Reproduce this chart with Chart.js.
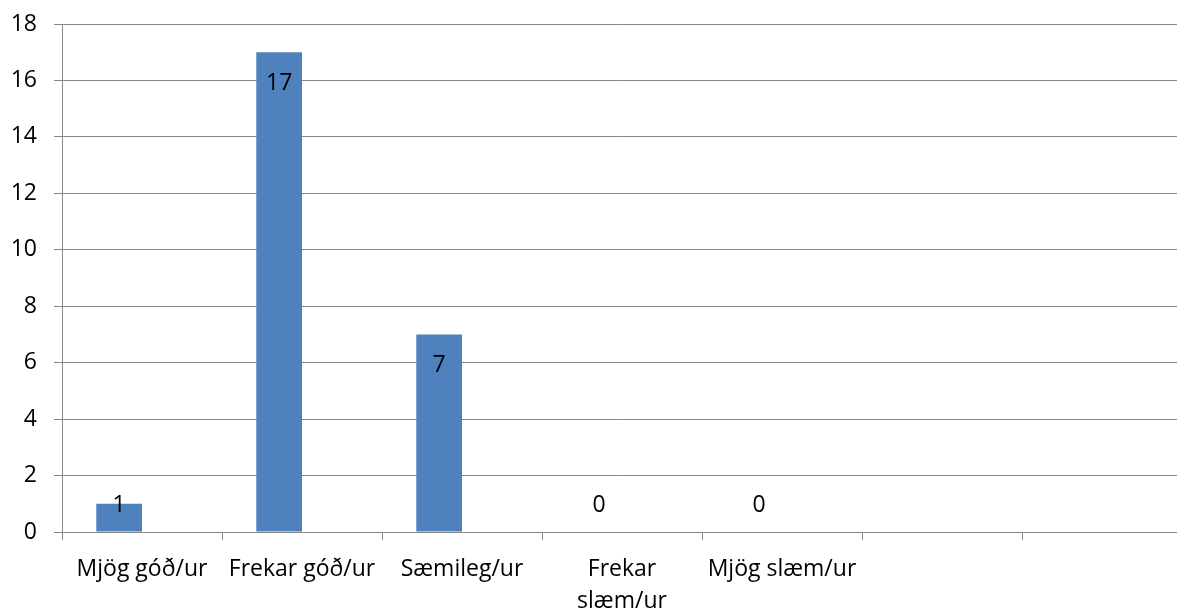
<!DOCTYPE html>
<html><head><meta charset="utf-8">
<script src="https://cdn.jsdelivr.net/npm/chart.js@4/dist/chart.umd.min.js"></script>
<style>
html,body{margin:0;padding:0;background:#fff;overflow:hidden;}
#wrap{width:1182px;height:610px;position:relative;}
</style></head><body>
<div id="wrap"><canvas id="c"></canvas></div>
<script>
const categories = [["Mjög góð/ur"], ["Frekar góð/ur"], ["Sæmileg/ur"], ["Frekar", "slæm/ur"], ["Mjög slæm/ur"], [""], [""]];
const seriesValues = [1, 17, 7, 0, 0, null, null];
const emptySeries = [null, null, null, null, null, null, null];
const yTicks = [0, 2, 4, 6, 8, 10, 12, 14, 16, 18];

const FONT = "'Open Sans', Lato, sans-serif";
const FSIZE = 23;
const labelPlugin = {
  id: 'barLabels',
  afterDatasetsDraw(chart) {
    const ctx = chart.ctx;
    const meta = chart.getDatasetMeta(0);
    const base = chart.scales.y.getPixelForValue(0);
    ctx.save();
    ctx.font = FSIZE + "px " + FONT;
    ctx.fillStyle = '#000';
    ctx.textAlign = 'center';
    ctx.textBaseline = 'middle';
    meta.data.forEach((bar, i) => {
      const v = seriesValues[i];
      if (v === null || v === undefined) return;
      const y = Math.min(bar.y + 31, base - 27);
      ctx.fillText(String(v), bar.x, y);
    });
    ctx.restore();
  }
};

new Chart(document.getElementById('c'), {
  type: 'bar',
  data: {
    labels: categories,
    datasets: [
      { data: seriesValues, backgroundColor: '#4F81BD', borderWidth: 0, categoryPercentage: 2/3.5, barPercentage: 1 },
      { data: emptySeries, backgroundColor: '#C0504D', borderWidth: 0, categoryPercentage: 2/3.5, barPercentage: 1 }
    ]
  },
  options: {
    responsive: true,
    maintainAspectRatio: false,
    animation: false,
    layout: { padding: { top: 24, right: 0, left: 0, bottom: 0 } },
    plugins: { legend: { display: false }, tooltip: { enabled: false } },
    scales: {
      x: {
        grid: { offset: true, drawOnChartArea: false, drawTicks: true, tickLength: 8, color: '#878787', lineWidth: 1 },
        border: { display: true, color: '#878787', width: 1 },
        ticks: { color: '#000', font: { family: FONT, size: FSIZE, lineHeight: 1.38 }, maxRotation: 0, minRotation: 0, autoSkip: false, padding: 14 },
        afterFit(s) { s.height = 78; s.paddingLeft = 0; s.paddingRight = 0; }
      },
      y: {
        min: 0, max: 18,
        afterBuildTicks(s) { s.ticks = yTicks.map(v => ({ value: v })); },
        grid: { color: '#878787', lineWidth: 1, drawTicks: true, tickLength: 8 },
        border: { display: true, color: '#878787', width: 1 },
        ticks: { color: '#000', font: { family: FONT, size: FSIZE }, padding: 17 },
        afterFit(s) { s.width = 62; s.paddingTop = 0; s.paddingBottom = 0; }
      }
    }
  },
  plugins: [labelPlugin]
});
</script>
</body></html>
